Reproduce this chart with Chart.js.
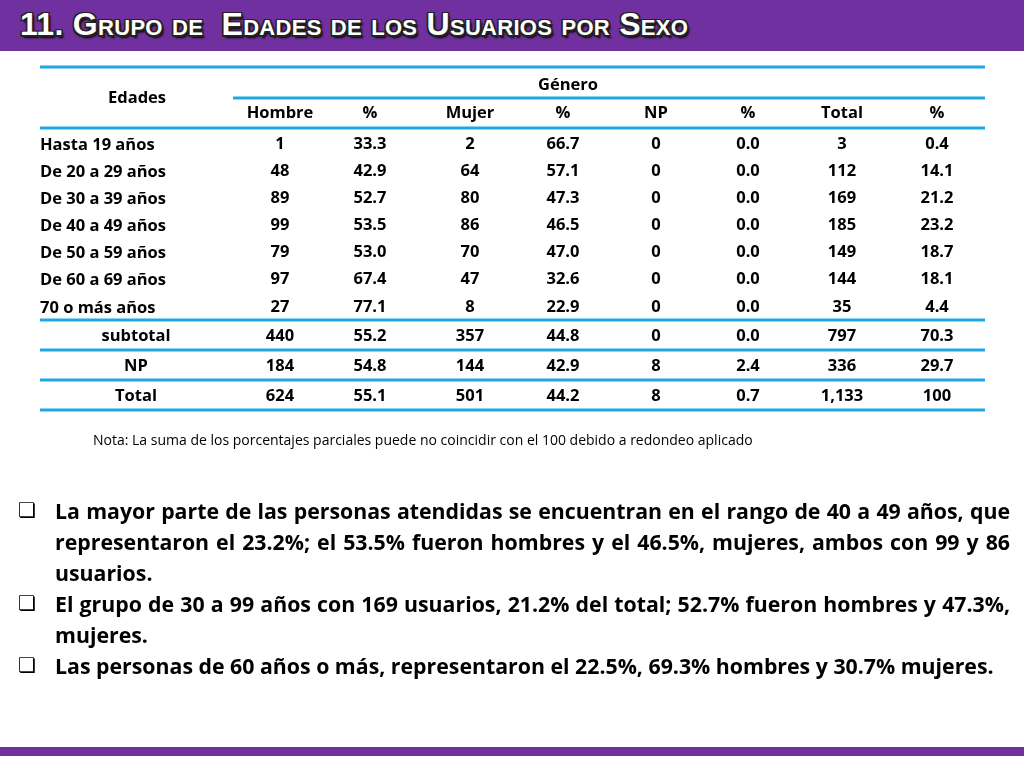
<!DOCTYPE html>
<html><head><meta charset="utf-8">
<script src="https://cdn.jsdelivr.net/npm/chart.js@4"></script>
<style>
body{margin:0;width:1024px;height:768px;background:#fff;position:relative;overflow:hidden;font-family:"Open Sans","Noto Sans",sans-serif}
#bar{position:absolute;left:0;top:0;width:1024px;height:51px;background:#7030A0}
#title{position:absolute;left:20px;top:6px;font-family:"Liberation Sans Narrow","Liberation Sans",sans-serif;font-weight:bold;font-size:32px;font-variant:small-caps;color:#fff;letter-spacing:0.3px;text-shadow:-1.5px -1.5px 0 #222,1.5px -1.5px 0 #222,-1.5px 1.5px 0 #222,1.5px 1.5px 0 #222,2px 3px 2px #000;white-space:pre}
#bot{position:absolute;left:0;top:747px;width:1024px;height:9px;background:#7030A0}
#wrap{position:absolute;left:0;top:0;width:1024px;height:768px}
#bul{position:absolute;left:18px;top:495px;width:992px;font-weight:bold;font-size:21.3px;line-height:31px;color:#000;font-family:"Open Sans",sans-serif;letter-spacing:0px}
.b{position:relative;padding-left:37px;text-align:justify}
.b:before{content:"\274F";position:absolute;left:0;top:0;font-size:20px;font-family:"DejaVu Sans"}
</style></head><body>
<div id="wrap"><canvas id="c" width="1024" height="768"></canvas></div>
<div id="bar"></div><div id="title">11. Grupo de  Edades de los Usuarios por Sexo</div>
<div id="bot"></div>
<div id="bul">
<div class="b">La mayor parte de las personas atendidas se encuentran en el rango de 40 a 49 años, que representaron el 23.2%; el 53.5% fueron hombres y el 46.5%, mujeres, ambos con 99 y 86 usuarios.</div>
<div class="b">El grupo de 30 a 99 años con 169 usuarios, 21.2% del total; 52.7% fueron hombres y 47.3%, mujeres.</div>
<div class="b">Las personas de 60 años o más, representaron el 22.5%, 69.3% hombres y 30.7% mujeres.</div>
</div>
<script>
const rowLabels=["Hasta 19 años","De 20 a 29 años","De 30 a 39 años","De 40 a 49 años","De 50 a 59 años","De 60 a 69 años","70 o más años","subtotal","NP","Total"];
const columnLabels=["Hombre","%","Mujer","%","NP","%","Total","%"];
const hombre=["1","48","89","99","79","97","27","440","184","624"];
const hombrePct=["33.3","42.9","52.7","53.5","53.0","67.4","77.1","55.2","54.8","55.1"];
const mujer=["2","64","80","86","70","47","8","357","144","501"];
const mujerPct=["66.7","57.1","47.3","46.5","47.0","32.6","22.9","44.8","42.9","44.2"];
const np=["0","0","0","0","0","0","0","0","8","8"];
const npPct=["0.0","0.0","0.0","0.0","0.0","0.0","0.0","0.0","2.4","0.7"];
const total=["3","112","169","185","149","144","35","797","336","1,133"];
const totalPct=["0.4","14.1","21.2","23.2","18.7","18.1","4.4","70.3","29.7","100"];
const note="Nota: La suma de los porcentajes parciales puede no coincidir con el 100 debido a redondeo aplicado";

const cols=[hombre,hombrePct,mujer,mujerPct,np,npPct,total,totalPct];
const colX=[280,370,470,563,656,748,842,937];
const rowY=[144,171,198,225,252,279,307,336,366,396];
const lines=[[40,985,67],[233,985,98],[40,985,128],[40,985,320],[40,985,350],[40,985,380],[40,985,410]];

const tablePlugin={id:'table',afterDraw(ch){
 const c=ch.ctx,x=ch.scales.x,y=ch.scales.y;
 c.save();
 c.strokeStyle='#1EA7E1';c.lineWidth=3;
 lines.forEach(l=>{c.beginPath();c.moveTo(x.getPixelForValue(l[0]),y.getPixelForValue(l[2]));c.lineTo(x.getPixelForValue(l[1]),y.getPixelForValue(l[2]));c.stroke();});
 c.fillStyle='#000';c.textBaseline='middle';
 c.font='bold 16.5px "Open Sans"';
 c.textAlign='center';
 c.fillText('Edades',x.getPixelForValue(137),y.getPixelForValue(98));
 c.fillText('Género',x.getPixelForValue(568),y.getPixelForValue(85));
 columnLabels.forEach((l,i)=>c.fillText(l,x.getPixelForValue(colX[i]),y.getPixelForValue(113)));
 rowLabels.forEach((l,r)=>{
  if(r<7){c.textAlign='left';c.fillText(l,x.getPixelForValue(40),y.getPixelForValue(rowY[r]+1));}
  else{c.textAlign='center';c.fillText(l,x.getPixelForValue(136),y.getPixelForValue(rowY[r]));}
  c.textAlign='center';
  cols.forEach((arr,i)=>c.fillText(arr[r],x.getPixelForValue(colX[i]),y.getPixelForValue(rowY[r])));
 });
 c.textAlign='left';c.font='14px "Open Sans"';
 c.fillText(note,x.getPixelForValue(93),y.getPixelForValue(441));
 c.restore();
}};
new Chart(document.getElementById('c'),{type:'scatter',data:{datasets:[{data:[]}]},
 options:{responsive:false,animation:false,layout:{padding:0},
  plugins:{legend:{display:false},tooltip:{enabled:false}},
  scales:{x:{type:'linear',min:0,max:1024,display:false},y:{type:'linear',min:0,max:768,reverse:true,display:false}}},
 plugins:[tablePlugin]});
</script></body></html>
